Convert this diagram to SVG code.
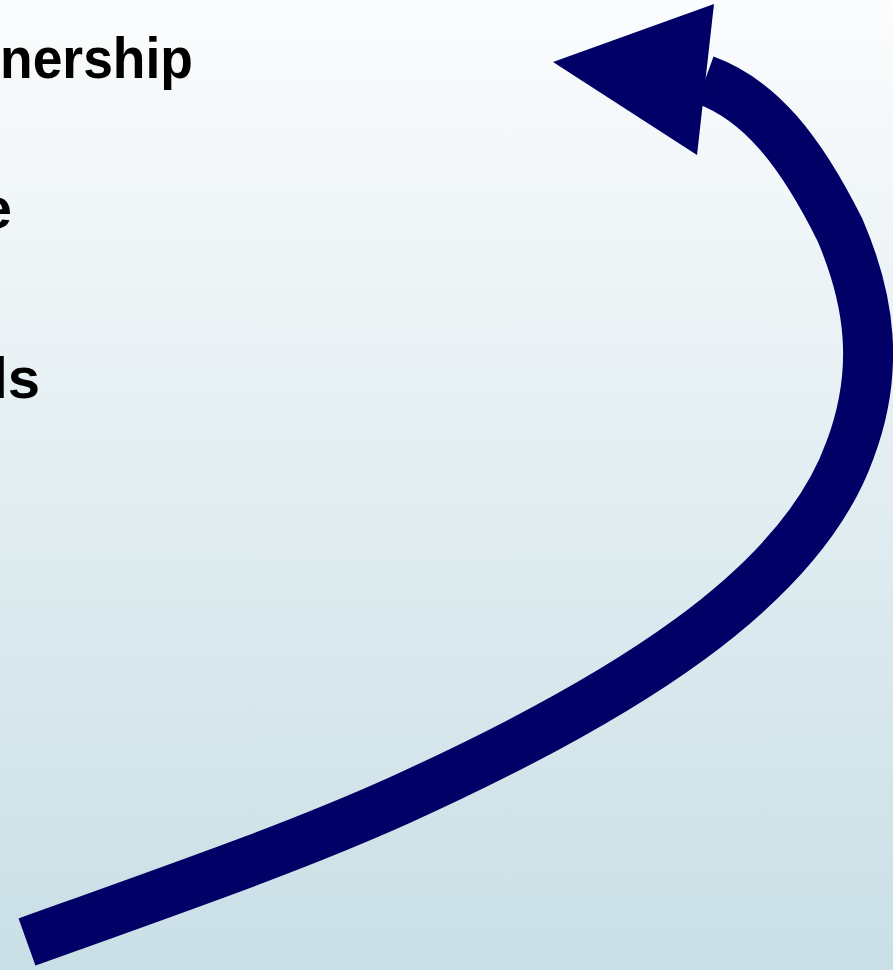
<svg xmlns="http://www.w3.org/2000/svg" width="893" height="970" viewBox="0 0 893 970">
<defs>
<linearGradient id="bg" x1="0" y1="0" x2="0" y2="1">
<stop offset="0" stop-color="#fbfcfd"/>
<stop offset="1" stop-color="#c9dfe6"/>
</linearGradient>
<style>
.t{font-family:"Liberation Sans",Arial,sans-serif;font-weight:bold;font-size:58px;fill:#000}
.arr{fill:none;stroke:#000066;stroke-width:50}
</style>
</defs>
<rect width="893" height="970" fill="url(#bg)"/>
<g id="labels">
<text class="t" x="0" y="78" textLength="193" lengthAdjust="spacingAndGlyphs">nership</text>
<text class="t" x="12" y="228" text-anchor="end">e</text>
<text class="t" x="40" y="398" text-anchor="end">ls</text>
</g>
<g id="connectors">
<path class="arr" d="M27,942 C200,880 300,845 400,800 C620,700 800,590 850,450 C880,370 870,300 840,230 C800,150 760,100 705,80"/>
<polygon points="714,4 553,62 697,155" fill="#000066"/>
</g>
</svg>
